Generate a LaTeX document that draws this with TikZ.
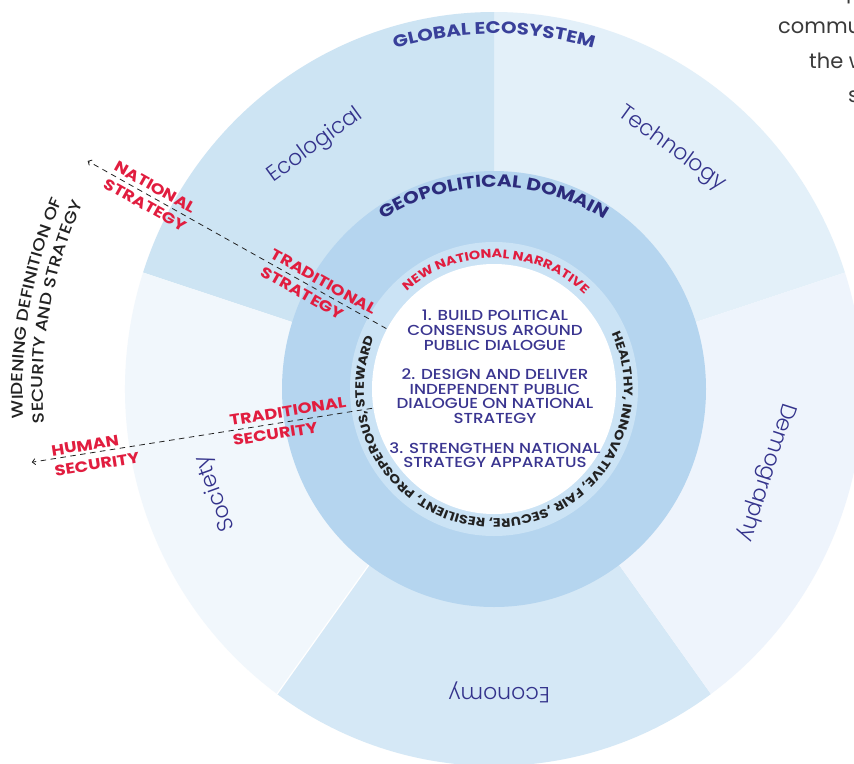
\documentclass[tikz,border=0pt]{standalone}
\usepackage{fontspec}
\setmainfont{Poppins}
\IfFontExistsTF{Poppins Light}{\newfontfamily\lightf{Poppins Light}}{\newfontfamily\lightf{Poppins}}
\IfFontExistsTF{Poppins Medium}{\newfontfamily\medf{Poppins Medium}[FakeStretch=1.15]}{\newfontfamily\medf{Poppins}[FakeStretch=1.15]}
\IfFontExistsTF{Poppins Bold}{\newfontfamily\boldf{Poppins Bold}[FakeStretch=1.18]}{\newfontfamily\boldf{Poppins}[FakeBold=2,FakeStretch=1.18]}
\usetikzlibrary{decorations.text,arrows.meta}
\definecolor{tech}{HTML}{E3F0F9}
\definecolor{eco}{HTML}{CDE4F3}
\definecolor{soc}{HTML}{F1F7FC}
\definecolor{econ}{HTML}{D5E8F6}
\definecolor{demo}{HTML}{EEF4FC}
\definecolor{geo}{HTML}{B5D5EF}
\definecolor{ringc}{HTML}{CBE3F5}
\definecolor{navy}{HTML}{2C2B7C}
\definecolor{navyb}{HTML}{39409A}
\definecolor{labelc}{HTML}{34338C}
\definecolor{ctext}{HTML}{3A3590}
\definecolor{redc}{HTML}{E11D3F}
\definecolor{ink}{HTML}{222222}
\definecolor{pagetext}{HTML}{3A3A3A}
\begin{document}
\begin{tikzpicture}[x=1pt,y=1pt,
  sectorlabel/.style={font=\lightf\fontsize{22}{22}\selectfont, text=labelc, inner sep=0pt},
  redlabel/.style={font=\boldf\fontsize{15}{20.5}\selectfont, text=redc, inner sep=0pt, align=left},
  dashline/.style={draw=ink, line width=0.8pt, dash pattern=on 5.5pt off 4.5pt, -{Straight Barb[length=3pt,width=6pt]}},
  pagetxt/.style={font=\fontsize{21}{21}\selectfont, text=pagetext, inner sep=0pt, anchor=base west}]
\useasboundingbox (0,-763) rectangle (854,0);
\fill[white] (0,-763) rectangle (854,0);
\begin{scope}[shift={(494,-389)}]
  % global ecosystem sectors
  \fill[tech] (0,0) -- (18:369 and 377) arc[start angle=18, end angle=90, x radius=369, y radius=377] -- cycle;
  \fill[eco] (0,0) -- (90:369 and 377) arc[start angle=90, end angle=162, x radius=369, y radius=377] -- cycle;
  \fill[soc] (0,0) -- (162:369 and 377) arc[start angle=162, end angle=234, x radius=369, y radius=377] -- cycle;
  \fill[econ] (0,0) -- (234:369 and 377) arc[start angle=234, end angle=306, x radius=369, y radius=377] -- cycle;
  \fill[demo] (0,0) -- (306:369 and 377) arc[start angle=306, end angle=378, x radius=369, y radius=377] -- cycle;
  \draw[white, line width=1.2pt] (0,0) -- (234:369 and 377);
  % geopolitical domain and inner rings
  \fill[geo] (0,0) ellipse[x radius=212, y radius=218];
  \fill[ringc] (0,0) ellipse[x radius=144, y radius=147];
  \fill[white] (0,0) ellipse[x radius=122, y radius=125];
  % curved titles
  \path[decorate, decoration={text along path, text align=center,
     text={|\boldf\fontsize{16.8}{16.8}\selectfont\color{navyb}|GLOBAL ECOSYSTEM}}]
     (150:355) arc[start angle=150, end angle=30, radius=355];
  \path[decorate, decoration={text along path, text align=center,
     text={|\boldf\fontsize{17.1}{17.1}\selectfont\color{navy}|GEOPOLITICAL DOMAIN}}]
     (160:202) arc[start angle=160, end angle=20, radius=202];
  \path[decorate, decoration={text along path, text align=center,
     text={|\boldf\fontsize{12.2}{12.2}\selectfont\color{redc}|NEW NATIONAL NARRATIVE}}]
     (170:131) arc[start angle=170, end angle=8, radius=131];
  \path[decorate, decoration={text along path, text align=center,
     text={|\boldf\fontsize{12.2}{12.2}\selectfont\color{ink}|HEALTHY, INNOVATIVE, FAIR ,SECURE, RESILIENT, PROSPEROUS, STEWARD}}]
     (61:130) arc[start angle=61, end angle=-239, radius=130];
  \path[decorate, decoration={text along path, text align=center,
     text={|\medf\fontsize{16}{16}\selectfont\color{ink}|WIDENING DEFINITION OF}}]
     (215:471) arc[start angle=215, end angle=125, radius=471];
  \path[decorate, decoration={text along path, text align=center,
     text={|\medf\fontsize{16}{16}\selectfont\color{ink}|SECURITY AND STRATEGY}}]
     (215:451) arc[start angle=215, end angle=125, radius=451];
  % sector labels
  \node[sectorlabel, rotate=36] (ecol) at (126.3:302) {Ecological};
  \node[sectorlabel, rotate=-36] (techl) at (53.5:299) {Technology};
  \node[sectorlabel, rotate=-108] (demol) at (-17:285) {Demography};
  \node[sectorlabel, rotate=180] (econl) at (-89:303) {Economy};
  \node[sectorlabel, rotate=110] (socl) at (200.5:297) {Society};
  % centre text
  \node[font=\medf\fontsize{14.5}{14.7}\selectfont, text=ctext, align=center, inner sep=0pt] (core) at (1,0)
    {1. BUILD POLITICAL\\CONSENSUS AROUND\\PUBLIC DIALOGUE\\[14.7pt]
     2. DESIGN AND DELIVER\\INDEPENDENT PUBLIC\\DIALOGUE ON NATIONAL\\STRATEGY\\[14.7pt]
     3. STRENGTHEN NATIONAL\\STRATEGY APPARATUS};
  % widening arrows
  \coordinate (s1) at (150.7:123.5);
  \coordinate (e1) at (150.7:466);
  \coordinate (s2) at (189:123.5);
  \coordinate (e2) at (189:468);
  \draw[dashline] (s1) -- (e1);
  \draw[dashline] (s2) -- (e2);
  \node[redlabel, rotate=-29.3] (natstrat) at (150.7:394) {NATIONAL\\STRATEGY};
  \node[redlabel, rotate=-29.3] (tradstrat) at (150.7:201) {TRADITIONAL\\STRATEGY};
  \node[redlabel, rotate=9] (tradsec) at (189:207) {TRADITIONAL\\SECURITY};
  \node[redlabel, rotate=9] (humsec) at (189.3:404) {HUMAN\\SECURITY};
\end{scope}
% cut-off page text at top right
\node[pagetxt] (pp) at (846,1.5) {p};
\node[pagetxt] (pc) at (778,-33) {commu};
\node[pagetxt] (pw) at (809,-68) {the w};
\node[pagetxt] (ps) at (848,-102.5) {s};
\end{tikzpicture}
\end{document}
